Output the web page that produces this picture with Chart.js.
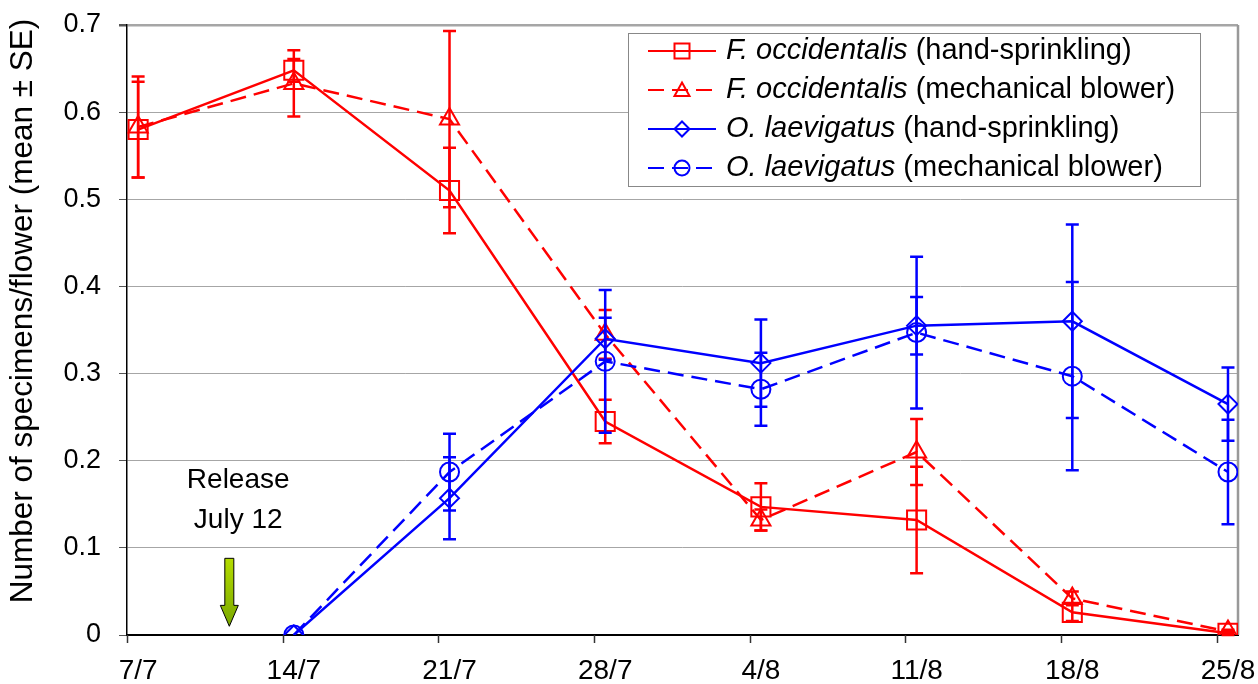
<!DOCTYPE html>
<html>
<head>
<meta charset="utf-8">
<script src="https://cdn.jsdelivr.net/npm/chart.js@4.4.0/dist/chart.umd.min.js"></script>
<style>
  body { margin: 0; background: #fff; }
</style>
</head>
<body>
<canvas id="grafico" width="1258" height="684"></canvas>
<script>
// Datas de coleta (rótulos do eixo X) e dias desde 7/7
const rotulosX = ['7/7', '14/7', '21/7', '28/7', '4/8', '11/8', '18/8', '25/8'];
const dias = [0, 7, 14, 21, 28, 35, 42, 49];
const marcasY = [0, 0.1, 0.2, 0.3, 0.4, 0.5, 0.6, 0.7];
const tituloY = 'Number of specimens/flower (mean ± SE)';

// F. occidentalis
const foManual = [0.58, 0.648, 0.51, 0.245, 0.147, 0.132, 0.026, 0.002];
const foManualEP = [0.055, 0.013, 0.049, 0.025, 0.027, 0.061, 0.010, 0.002];
const foSoprador = [0.583, 0.633, 0.592, 0.345, 0.132, 0.21, 0.042, 0.004];
const foSopradorEP = [0.058, 0.038, 0.101, 0.028, 0.012, 0.038, 0.008, 0.002];

// O. laevigatus (liberado em 12/7)
const olManual = [null, 0, 0.157, 0.34, 0.312, 0.355, 0.36, 0.265];
const olManualEP = [null, 0, 0.047, 0.024, 0.05, 0.033, 0.111, 0.042];
const olSoprador = [null, 0, 0.187, 0.314, 0.282, 0.347, 0.297, 0.187];
const olSopradorEP = [null, 0, 0.044, 0.082, 0.042, 0.087, 0.108, 0.06];

// Dia da liberação (12/7), na escala dos dias
const diaLiberacao = 4.1;

const FONTE = '"Liberation Sans", Arial, sans-serif';
Chart.defaults.color = '#000';
Chart.defaults.font.family = FONTE;

function pontos(valores) {
    return dias.map((d, i) => ({ x: d, y: valores[i] }));
}

function desenhaMarcador(ctx, estilo, x, y, r) {
    ctx.beginPath();
    if (estilo === 'rect') {
        ctx.rect(x - r, y - r, 2 * r, 2 * r);
    } else if (estilo === 'triangle') {
        ctx.moveTo(x, y - r);
        ctx.lineTo(x + r, y + r * 0.8);
        ctx.lineTo(x - r, y + r * 0.8);
        ctx.closePath();
    } else if (estilo === 'rectRot') {
        ctx.moveTo(x - r, y);
        ctx.lineTo(x, y - r);
        ctx.lineTo(x + r, y);
        ctx.lineTo(x, y + r);
        ctx.closePath();
    } else {
        ctx.arc(x, y, r, 0, Math.PI * 2);
    }
    ctx.stroke();
}

// Barras de erro (média ± EP)
const barrasErro = {
    id: 'barrasErro',
    afterDatasetsDraw(chart) {
        const ctx = chart.ctx;
        const sx = chart.scales.x;
        const sy = chart.scales.y;
        chart.data.datasets.forEach(ds => {
            ctx.save();
            ctx.strokeStyle = ds.borderColor;
            ctx.lineWidth = 2.5;
            ds.data.forEach((p, j) => {
                const ep = ds.erros[j];
                if (p.y === null || !ep) return;
                const px = sx.getPixelForValue(p.x);
                const topo = sy.getPixelForValue(p.y + ep);
                const base = sy.getPixelForValue(Math.max(p.y - ep, 0));
                ctx.beginPath();
                ctx.moveTo(px, topo);
                ctx.lineTo(px, base);
                ctx.moveTo(px - 6.5, topo);
                ctx.lineTo(px + 6.5, topo);
                ctx.moveTo(px - 6.5, base);
                ctx.lineTo(px + 6.5, base);
                ctx.stroke();
            });
            ctx.restore();
        });
    }
};

// Moldura, marcas do eixo X, título do eixo Y, seta e texto da liberação, legenda
const extras = {
    id: 'extras',
    beforeDatasetsDraw(chart) {
        const ctx = chart.ctx;
        const a = chart.chartArea;
        const sx = chart.scales.x;
        ctx.save();
        ctx.strokeStyle = '#999';
        ctx.lineWidth = 2.5;
        ctx.beginPath();
        ctx.moveTo(a.right, a.top);
        ctx.lineTo(a.right, a.bottom);
        ctx.stroke();

        ctx.strokeStyle = '#333';
        ctx.lineWidth = 1.5;
        dias.forEach(d => {
            const px = Math.round(sx.getPixelForValue(d - 0.5)) + 0.5;
            ctx.beginPath();
            ctx.moveTo(px, a.bottom);
            ctx.lineTo(px, a.bottom + 8);
            ctx.stroke();
        });

        // título do eixo Y (um pouco acima do centro, como no original)
        ctx.translate(23, a.top + (a.bottom - a.top) / 2 - 19);
        ctx.rotate(-Math.PI / 2);
        ctx.font = '31.5px ' + FONTE;
        ctx.fillStyle = '#000';
        ctx.textAlign = 'center';
        ctx.textBaseline = 'middle';
        ctx.fillText(tituloY, 0, 0);
        ctx.restore();
    },
    afterDraw(chart) {
        const ctx = chart.ctx;
        const sx = chart.scales.x;
        const sy = chart.scales.y;

        // texto "Release July 12"
        ctx.save();
        ctx.font = '28px ' + FONTE;
        ctx.textAlign = 'center';
        ctx.textBaseline = 'middle';
        const xt = sx.getPixelForValue(diaLiberacao + 0.4);
        ctx.fillText('Release', xt, sy.getPixelForValue(0.178));
        ctx.fillText('July 12', xt, sy.getPixelForValue(0.132));

        // seta verde
        const xa = sx.getPixelForValue(diaLiberacao);
        const y0 = sy.getPixelForValue(0.088);
        const y1 = sy.getPixelForValue(0.034);
        const y2 = sy.getPixelForValue(0.01);
        const grad = ctx.createLinearGradient(0, y0, 0, y2);
        grad.addColorStop(0, '#b4dc00');
        grad.addColorStop(1, '#7aa800');
        ctx.beginPath();
        ctx.moveTo(xa - 4.5, y0);
        ctx.lineTo(xa + 4.5, y0);
        ctx.lineTo(xa + 4.5, y1);
        ctx.lineTo(xa + 9, y1);
        ctx.lineTo(xa, y2);
        ctx.lineTo(xa - 9, y1);
        ctx.lineTo(xa - 4.5, y1);
        ctx.closePath();
        ctx.fillStyle = grad;
        ctx.fill();
        ctx.strokeStyle = '#000';
        ctx.lineWidth = 1;
        ctx.stroke();
        ctx.restore();

        // legenda
        const lx = 628, ly = 33, lw = 572, lh = 153;
        ctx.save();
        ctx.fillStyle = '#fff';
        ctx.fillRect(lx, ly, lw, lh);
        ctx.strokeStyle = '#888';
        ctx.lineWidth = 1;
        ctx.strokeRect(lx + 0.5, ly + 0.5, lw, lh);
        chart.data.datasets.forEach((ds, i) => {
            const yc = ly + 18 + i * 39;
            ctx.strokeStyle = ds.borderColor;
            ctx.lineWidth = 2;
            ctx.setLineDash(ds.borderDash || []);
            ctx.beginPath();
            ctx.moveTo(lx + 20, yc);
            ctx.lineTo(lx + 88, yc);
            ctx.stroke();
            ctx.setLineDash([]);
            desenhaMarcador(ctx, ds.pointStyle, lx + 54, yc, 7.5);

            ctx.fillStyle = '#000';
            ctx.textBaseline = 'middle';
            ctx.textAlign = 'left';
            ctx.font = 'italic 29px ' + FONTE;
            ctx.fillText(ds.especie, lx + 98, yc);
            const w = ctx.measureText(ds.especie).width;
            ctx.font = '29px ' + FONTE;
            ctx.fillText(ds.metodo, lx + 98 + w, yc);
        });
        ctx.restore();
    }
};

function serie(especie, metodo, valores, erros, cor, estilo, raio, tracejado, ordem) {
    return {
        label: especie + metodo,
        especie: especie,
        metodo: metodo,
        data: pontos(valores),
        erros: erros,
        borderColor: cor,
        borderWidth: 2.5,
        borderDash: tracejado ? [16, 8] : [],
        pointStyle: estilo,
        pointRadius: raio,
        pointBorderWidth: 2,
        pointBorderColor: cor,
        pointBackgroundColor: 'rgba(0,0,0,0)',
        spanGaps: false,
        tension: 0,
        order: ordem
    };
}

const ctx = document.getElementById('grafico').getContext('2d');

new Chart(ctx, {
    type: 'line',
    data: {
        datasets: [
            serie('F. occidentalis', ' (hand-sprinkling)', foManual, foManualEP, '#ff0000', 'rect', 13.5, false, 4),
            serie('F. occidentalis', ' (mechanical blower)', foSoprador, foSopradorEP, '#ff0000', 'triangle', 11, true, 3),
            serie('O. laevigatus', ' (hand-sprinkling)', olManual, olManualEP, '#0000ff', 'rectRot', 9.5, false, 2),
            serie('O. laevigatus', ' (mechanical blower)', olSoprador, olSopradorEP, '#0000ff', 'circle', 9.5, true, 1)
        ]
    },
    options: {
        responsive: false,
        animation: false,
        layout: { padding: { top: 25, right: 20, left: 0, bottom: 0 } },
        plugins: {
            legend: { display: false },
            tooltip: { enabled: false }
        },
        scales: {
            x: {
                type: 'linear',
                min: -0.5,
                max: 49.45,
                afterBuildTicks: s => { s.ticks = dias.map(v => ({ value: v })); },
                afterFit: s => {
                    s.height = 49;
                    s.paddingLeft = 0;
                    s.paddingRight = 0;
                },
                ticks: {
                    callback: v => rotulosX[dias.indexOf(v)],
                    font: { size: 28 },
                    padding: 19,
                    maxRotation: 0,
                    autoSkip: false
                },
                grid: { drawOnChartArea: false, drawTicks: false },
                border: { color: '#000', width: 2 }
            },
            y: {
                min: 0,
                max: 0.7,
                afterBuildTicks: s => { s.ticks = marcasY.map(v => ({ value: v })); },
                afterFit: s => {
                    s.width = 127;
                    s.paddingTop = 0;
                    s.paddingBottom = 0;
                },
                ticks: {
                    callback: v => String(v),
                    font: { size: 27 },
                    padding: 18
                },
                grid: {
                    color: '#a6a6a6',
                    lineWidth: c => (c.tick && c.tick.value === 0.7 ? 2.5 : 1),
                    tickColor: '#555',
                    tickLength: 8
                },
                border: { color: '#000', width: 1.5 }
            }
        }
    },
    plugins: [barrasErro, extras]
});
</script>
</body>
</html>
